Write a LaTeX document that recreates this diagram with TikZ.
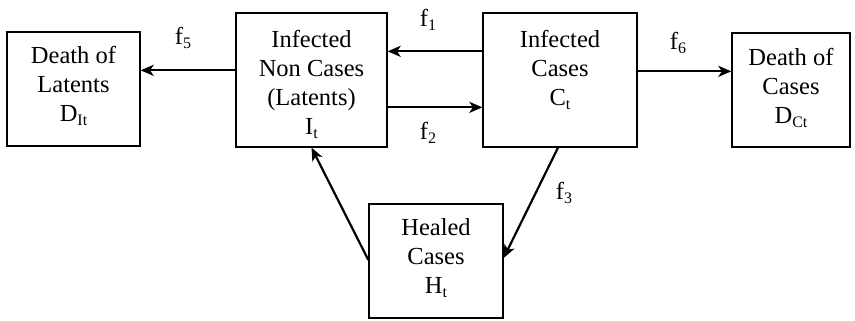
\documentclass[tikz,border=0pt]{standalone}
\usepackage{fontspec}
\setmainfont{Liberation Serif}
\newfontfamily\tnr{Liberation Serif}
\usetikzlibrary{arrows.meta}
\newcommand\lowidx[1]{\raisebox{-4.5pt}{\fontsize{16}{16}\selectfont #1}}
\begin{document}
\begin{tikzpicture}[x=1pt,y=-1pt,font=\tnr\fontsize{24.5}{29}\selectfont]
\tikzset{
  box/.style={draw, line width=1.3pt, inner sep=0pt},
  txt/.style={anchor=north, align=center, inner sep=0pt},
  flab/.style={inner sep=0pt},
  arr/.style={line width=2.2pt, -{Stealth[length=13pt,width=11pt,inset=3.5pt]}}}
\useasboundingbox (0,0) rectangle (855,321);
% boxes
\node[box, minimum width=133pt, minimum height=114pt] (DL) at (73.5,89) {};
\node[box, minimum width=151pt, minimum height=134pt] (IN) at (311.5,80) {};
\node[box, minimum width=154pt, minimum height=134pt] (IC) at (560,80) {};
\node[box, minimum width=118pt, minimum height=114pt] (DC) at (791,90) {};
\node[box, minimum width=134pt, minimum height=114pt] (H) at (436,261) {};
% texts
\node[txt] (DLt) at ([yshift=-14.6pt]DL.north) {Death of\\Latents\\D\lowidx{It}};
\node[txt] (INt) at ([yshift=-17.6pt]IN.north) {Infected\\Non Cases\\(Latents)\\I\lowidx{t}};
\node[txt] (ICt) at ([yshift=-17.6pt]IC.north) {Infected\\Cases\\C\lowidx{t}};
\node[txt] (DCt) at ([yshift=-15.6pt]DC.north) {Death of\\Cases\\D\lowidx{Ct}};
\node[txt] (Ht) at ([yshift=-14.6pt]H.north) {Healed\\Cases\\H\lowidx{t}};
% arrows
\draw[arr] ([yshift=-58pt]IN.north west) coordinate (a5) -- (a5 -| DL.east);
\draw[arr] ([yshift=-39pt]IC.north west) coordinate (a1) -- (a1 -| IN.east);
\draw[arr] ([yshift=-95pt]IN.north east) coordinate (a2) -- (a2 -| IC.west);
\draw[arr] ([yshift=-59pt]IC.north east) coordinate (a6) -- (a6 -| DC.west);
\draw[arr] ([xshift=-2pt]IC.south) -- ([yshift=3pt]H.east);
\draw[arr] ([yshift=1pt]H.west) -- (IN.south);
% labels
\node[flab] (f5) at (183,38) {f\lowidx{5}};
\node[flab] (f1) at (428,20) {f\lowidx{1}};
\node[flab] (f2) at (428,133) {f\lowidx{2}};
\node[flab] (f6) at (678,43) {f\lowidx{6}};
\node[flab] (f3) at (564,193) {f\lowidx{3}};
\end{tikzpicture}
\end{document}
